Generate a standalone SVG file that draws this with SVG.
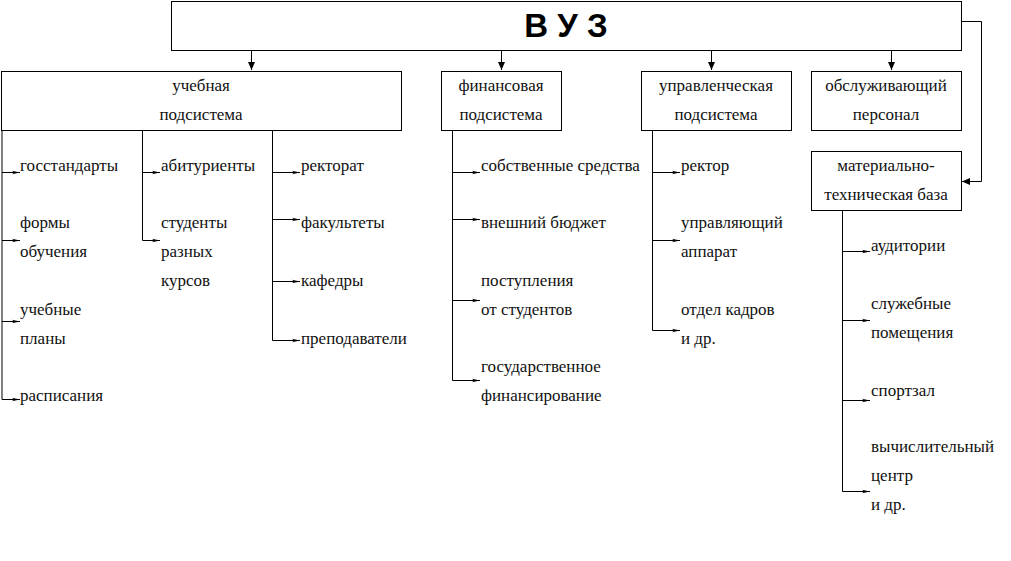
<svg xmlns="http://www.w3.org/2000/svg" width="1011" height="561" viewBox="0 0 1011 561">
<style>
.box{fill:#fff;stroke:#000;stroke-width:1}
.t{font-family:"Liberation Serif","Times New Roman",serif;font-size:17px;fill:#111}
.c{text-anchor:middle}
.ln{fill:none;stroke:#000;stroke-width:1}
.main{marker-end:url(#big)}
.br{marker-end:url(#small)}
</style>
<defs>
<marker id="big" markerUnits="userSpaceOnUse" markerWidth="10" markerHeight="10" viewBox="0 0 10 10" refX="9" refY="5" orient="auto">
<path d="M1,1.5 L9,5 L1,8.5 Z" fill="#000"/>
</marker>
<marker id="small" markerUnits="userSpaceOnUse" markerWidth="8" markerHeight="6" viewBox="0 0 8 6" refX="8" refY="3" orient="auto">
<path d="M0,1.2 L8,3 L0,4.8 L2,3 Z" fill="#000"/>
</marker>
</defs>
<rect width="1011" height="561" fill="#fff"/>

<g id="connectors">
<path class="ln main" d="M251.5,51 V70"/>
<path class="ln main" d="M501.5,51 V70"/>
<path class="ln main" d="M711.5,51 V70"/>
<path class="ln main" d="M891.5,51 V70"/>
<path class="ln main" d="M961.5,21.5 H981.5 V181.5 H962"/>
<path class="ln" d="M2,131 V399.5"/>
<path class="ln br" d="M2,172.5 H20"/>
<path class="ln br" d="M2,240.5 H20"/>
<path class="ln br" d="M2,321.5 H20"/>
<path class="ln br" d="M2,399.5 H20"/>
<path class="ln" d="M142.5,131 V240.5"/>
<path class="ln br" d="M142.5,172.5 H160"/>
<path class="ln br" d="M142.5,240.5 H160"/>
<path class="ln" d="M272.5,131 V340.5"/>
<path class="ln br" d="M272.5,172.5 H300"/>
<path class="ln br" d="M272.5,219.5 H300"/>
<path class="ln br" d="M272.5,281.5 H300"/>
<path class="ln br" d="M272.5,340.5 H300"/>
<path class="ln" d="M452.5,131 V380.5"/>
<path class="ln br" d="M452.5,172.5 H480"/>
<path class="ln br" d="M452.5,219.5 H480"/>
<path class="ln br" d="M452.5,300.5 H480"/>
<path class="ln br" d="M452.5,380.5 H480"/>
<path class="ln" d="M652.5,131 V330.5"/>
<path class="ln br" d="M652.5,172.5 H680"/>
<path class="ln br" d="M652.5,240.5 H680"/>
<path class="ln br" d="M652.5,330.5 H680"/>
<path class="ln" d="M842.5,211 V491.5"/>
<path class="ln br" d="M842.5,251.5 H870"/>
<path class="ln br" d="M842.5,320.5 H870"/>
<path class="ln br" d="M842.5,400.5 H870"/>
<path class="ln br" d="M842.5,491.5 H870"/>
</g>

<g id="vuz">
<rect class="box" x="171.5" y="1.5" width="790" height="49"/>
<text x="566" y="37" text-anchor="middle" font-family="Liberation Sans, Arial, sans-serif" font-weight="bold" font-size="33">В У З</text>
</g>

<g id="uchebnaya">
<rect class="box" x="1.5" y="71.5" width="400" height="59"/>
<text class="t c" x="201" y="91">учебная</text>
<text class="t c" x="201" y="120">подсистема</text>
</g>

<g id="finansovaya">
<rect class="box" x="441.5" y="71.5" width="120" height="59"/>
<text class="t c" x="501" y="91">финансовая</text>
<text class="t c" x="501" y="120">подсистема</text>
</g>

<g id="upravlencheskaya">
<rect class="box" x="641.5" y="71.5" width="150" height="59"/>
<text class="t c" x="716" y="91">управленческая</text>
<text class="t c" x="716" y="120">подсистема</text>
</g>

<g id="personal">
<rect class="box" x="811.5" y="71.5" width="150" height="59"/>
<text class="t c" x="886" y="91">обслуживающий</text>
<text class="t c" x="886" y="120">персонал</text>
</g>

<g id="baza">
<rect class="box" x="811.5" y="151.5" width="150" height="59"/>
<text class="t c" x="886" y="171">материально-</text>
<text class="t c" x="886" y="200">техническая база</text>
</g>

<g id="items-uchebnaya-1">
<text class="t" x="20" y="171">госстандарты</text>
<text class="t" x="20" y="228">формы</text>
<text class="t" x="20" y="257">обучения</text>
<text class="t" x="20" y="315">учебные</text>
<text class="t" x="20" y="344">планы</text>
<text class="t" x="20" y="401">расписания</text>
</g>

<g id="items-uchebnaya-2">
<text class="t" x="161" y="171">абитуриенты</text>
<text class="t" x="161" y="228">студенты</text>
<text class="t" x="161" y="257">разных</text>
<text class="t" x="161" y="286">курсов</text>
</g>

<g id="items-uchebnaya-3">
<text class="t" x="301" y="171">ректорат</text>
<text class="t" x="301" y="228">факультеты</text>
<text class="t" x="301" y="286">кафедры</text>
<text class="t" x="301" y="344">преподаватели</text>
</g>

<g id="items-finansovaya">
<text class="t" x="481" y="171">собственные средства</text>
<text class="t" x="481" y="228">внешний бюджет</text>
<text class="t" x="481" y="286">поступления</text>
<text class="t" x="481" y="315">от студентов</text>
<text class="t" x="481" y="372">государственное</text>
<text class="t" x="481" y="401">финансирование</text>
</g>

<g id="items-upravlencheskaya">
<text class="t" x="681" y="171">ректор</text>
<text class="t" x="681" y="228">управляющий</text>
<text class="t" x="681" y="257">аппарат</text>
<text class="t" x="681" y="315">отдел кадров</text>
<text class="t" x="681" y="344">и др.</text>
</g>

<g id="items-baza">
<text class="t" x="871" y="251">аудитории</text>
<text class="t" x="871" y="309">служебные</text>
<text class="t" x="871" y="338">помещения</text>
<text class="t" x="871" y="396">спортзал</text>
<text class="t" x="871" y="452">вычислительный</text>
<text class="t" x="871" y="481">центр</text>
<text class="t" x="871" y="510">и др.</text>
</g>
</svg>
